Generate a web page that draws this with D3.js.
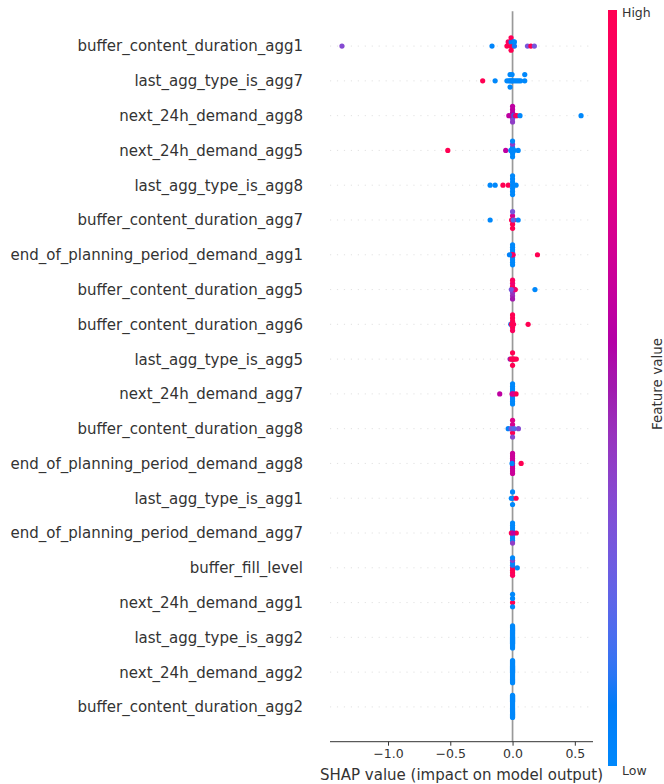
<!DOCTYPE html>
<html>
<head>
<meta charset="utf-8">
<script src="https://cdn.jsdelivr.net/npm/d3@7"></script>
<style>
  html, body { margin: 0; padding: 0; background: #fff; }
  svg { display: block; font-family: "DejaVu Sans", sans-serif; }
</style>
</head>
<body>
<svg id="chart" width="664" height="784"></svg>
<script>
// Features, top to bottom
const features = [
  "buffer_content_duration_agg1",
  "last_agg_type_is_agg7",
  "next_24h_demand_agg8",
  "next_24h_demand_agg5",
  "last_agg_type_is_agg8",
  "buffer_content_duration_agg7",
  "end_of_planning_period_demand_agg1",
  "buffer_content_duration_agg5",
  "buffer_content_duration_agg6",
  "last_agg_type_is_agg5",
  "next_24h_demand_agg7",
  "buffer_content_duration_agg8",
  "end_of_planning_period_demand_agg8",
  "last_agg_type_is_agg1",
  "end_of_planning_period_demand_agg7",
  "buffer_fill_level",
  "next_24h_demand_agg1",
  "last_agg_type_is_agg2",
  "next_24h_demand_agg2",
  "buffer_content_duration_agg2"
];

// [SHAP value, normalised feature value] per sample, one array per feature
const shap_buffer_content_duration_agg1 = [[-1.37,0.35],[-0.165,0.02],[-0.045,1],[-0.035,0.95],[-0.012,1],[-0.012,0.05],[-0.012,1],[-0.012,0.98],[0.0,1],[0.005,0.05],[0.015,0.1],[0.015,0.0],[0.12,0.3],[0.147,1],[0.175,0.3]];
const shap_last_agg_type_is_agg7 = [[-0.24,1],[-0.14,0],[-0.045,0],[-0.03,0],[-0.02,0],[-0.02,0],[-0.02,0],[-0.01,0],[-0.004,0],[-0.004,0],[0.005,0],[0.02,0],[0.035,0],[0.05,0],[0.065,0],[0.098,0],[0.098,0]];
const shap_next_24h_demand_agg8 = [[0.55,0.0],[0,0.35],[0,0.55],[0,0.3],[0,0.6],[0,0.4],[0,0.6],[-0.01,0.7],[0.01,0.0],[0.02,0.65],[0.034,1],[0.06,0.0],[-0.03,0.6]];
const shap_next_24h_demand_agg5 = [[-0.52,1],[-0.055,0.6],[-0.015,0.0],[0,0.0],[0,0.0],[0,0.0],[0,0.4],[0,0.0],[0,0.0],[0.012,0.0],[0.045,0.0]];
const shap_last_agg_type_is_agg8 = [[-0.18,0],[-0.14,0],[-0.077,1],[-0.034,1],[0,0],[0,0],[0,0],[0,0],[0,0],[0,0],[0,0],[0.028,0]];
const shap_buffer_content_duration_agg7 = [[-0.18,0],[0,0.9],[0,0.7],[0,1],[0,0.3],[0,1],[0.01,0.95],[-0.008,1],[0.045,0],[0.005,0.2]];
const shap_end_of_planning_period_demand_agg1 = [[0.2,1],[0,0],[0,0],[0,0],[0,0],[0,0],[0,0],[0,0],[0,0],[0,0],[-0.005,1],[0.004,1],[0.002,0.9],[-0.025,0.05]];
const shap_buffer_content_duration_agg5 = [[0.18,0],[0,0.55],[0,1],[0,0.4],[0,0.85],[0,0.45],[0,0.95],[0,0.5],[0.022,1],[0.01,0.8],[-0.01,0.3]];
const shap_buffer_content_duration_agg6 = [[0.125,1],[0,1],[0,1],[0,1],[0,1],[0,0.95],[0,1],[-0.015,0.1],[0.008,0.95],[-0.008,1]];
const shap_last_agg_type_is_agg5 = [[0,1],[0,1],[0,1],[-0.02,0.5],[0.008,1],[0.015,1],[0.03,1],[-0.01,1]];
const shap_next_24h_demand_agg7 = [[-0.103,0.6],[0,0],[0,0],[0,0],[0,0],[0,0],[0,0],[0,0],[0,0],[0,0],[0.003,1],[0.028,1],[-0.004,0.7]];
const shap_buffer_content_duration_agg8 = [[0,1],[0,0.7],[0,1],[0,0.75],[0,0.35],[-0.035,0.05],[0.047,0.35],[-0.012,0.3],[0.012,0.2]];
const shap_end_of_planning_period_demand_agg8 = [[0,0.65],[0,0.65],[0,0.65],[0,0.65],[0,0.65],[0,0.65],[0,0.65],[0,0.65],[0,0.65],[-0.004,0.0],[0.069,1]];
const shap_last_agg_type_is_agg1 = [[0,0],[0,0],[0,0],[-0.01,0],[0.028,1]];
const shap_end_of_planning_period_demand_agg7 = [[0,0],[0,0],[0,0],[0,0],[0,0],[0,0],[0,0],[0,0],[-0.01,1],[0.03,1],[0,0.4],[0.003,0.6]];
const shap_buffer_fill_level = [[0,1],[0,0.1],[0,1],[0,0],[0,1],[0,0.4],[0,0.95],[0,0],[0.038,0]];
const shap_next_24h_demand_agg1 = [[0,1],[0,0],[0,0],[0,0]];
const shap_last_agg_type_is_agg2 = [[0,0],[0,0],[0,0],[0,0],[0,0],[0,0],[0,0],[0,0],[0,0],[0,0],[0,0],[0,0],[0,0],[0,0],[0,0],[0,0],[0,0],[0,0],[0,0],[0,0],[0,0],[0,0],[0,0],[0,0]];
const shap_next_24h_demand_agg2 = [[0,0],[0,0],[0,0],[0,0],[0,0],[0,0],[0,0],[0,0],[0,0],[0,0],[0,0],[0,0],[0,0],[0,0],[0,0],[0,0],[0,0],[0,0],[0,0],[0,0],[0,0],[0,0],[0,0],[0,0]];
const shap_buffer_content_duration_agg2 = [[0,0],[0,0],[0,0],[0,0],[0,0],[0,0],[0,0],[0,0],[0,0],[0,0],[0,0],[0,0],[0,0],[0,0],[0,0],[0,0],[0,0],[0,0],[0,0],[0,0],[0,0],[0,0],[0,0],[0,0]];

const seriesByFeature = [
  shap_buffer_content_duration_agg1, shap_last_agg_type_is_agg7, shap_next_24h_demand_agg8,
  shap_next_24h_demand_agg5, shap_last_agg_type_is_agg8, shap_buffer_content_duration_agg7,
  shap_end_of_planning_period_demand_agg1, shap_buffer_content_duration_agg5, shap_buffer_content_duration_agg6,
  shap_last_agg_type_is_agg5, shap_next_24h_demand_agg7, shap_buffer_content_duration_agg8,
  shap_end_of_planning_period_demand_agg8, shap_last_agg_type_is_agg1, shap_end_of_planning_period_demand_agg7,
  shap_buffer_fill_level, shap_next_24h_demand_agg1, shap_last_agg_type_is_agg2,
  shap_next_24h_demand_agg2, shap_buffer_content_duration_agg2
];

const xTicks = [-1.0, -0.5, 0.0, 0.5];
const xTitle = "SHAP value (impact on model output)";
const cbarTitle = "Feature value";
const cbarLabels = ["Low", "High"];

// ---- layout ----
const svg = d3.select("#chart");
const plotL = 330, plotR = 593, plotT = 11.3, plotB = 741.7;
const nF = features.length;

const allVals = seriesByFeature.flat().map(d => d[0]);
const vmin = d3.min(allVals), vmax = d3.max(allVals);
const pad = (vmax - vmin) * 0.05;
const x = d3.scaleLinear().domain([vmin - pad, vmax + pad]).range([plotL, plotR]);
const y = d3.scaleLinear().domain([-1, nF]).range([plotB, plotT]);

// SHAP "red_blue" colormap: LCH path blue -> (darker mid) -> red
const hueS = d3.scaleLinear().domain([0, 1]).range([266.93, 380.32]);
const chromaS = d3.scaleLinear().domain([0, 1]).range([70, 90]);
const lightS = d3.scaleLinear().domain([0, 0.5, 1]).range([54, 40, 54]);
function color(t) {
  t = Math.max(0, Math.min(1, t));
  return d3.hcl(hueS(t) % 360, chromaS(t), lightS(t)).formatHex();
}

// grid lines
const g = svg.append("g");
features.forEach((f, i) => {
  const pos = nF - 1 - i;
  g.append("line")
    .attr("x1", plotL).attr("x2", plotR)
    .attr("y1", y(pos)).attr("y2", y(pos))
    .attr("stroke", "#cccccc").attr("stroke-width", 0.6)
    .attr("stroke-dasharray", "1.15,5.8");
});
// zero line
g.append("line")
  .attr("x1", x(0)).attr("x2", x(0))
  .attr("y1", plotT).attr("y2", plotB)
  .attr("stroke", "#999999").attr("stroke-width", 1.7);

// beeswarm (shap algorithm)
function swarm(pts) {
  const n = pts.length, nbins = 100;
  const vals = pts.map(p => p[0]);
  const mn = d3.min(vals), mx = d3.max(vals);
  const quant = vals.map(v => Math.round(nbins * (v - mn) / (mx - mn + 1e-8)));
  const inds = d3.range(n).sort((a, b) => (quant[a] - quant[b]) || (a - b));
  let layer = 0, last = -1;
  const ys = new Array(n).fill(0);
  for (const i of inds) {
    if (quant[i] !== last) layer = 0;
    ys[i] = Math.ceil(layer / 2) * ((layer % 2) * 2 - 1);
    layer++;
    last = quant[i];
  }
  const m = d3.max(ys.map(v => v + 1));
  return ys.map(v => v * 0.9 * (0.4 / m));
}

const dots = svg.append("g");
seriesByFeature.forEach((pts, i) => {
  const pos = nF - 1 - i;
  const ys = swarm(pts);
  dots.selectAll(null).data(pts.map((p, k) => ({ v: p[0], fv: p[1], dy: ys[k] })))
    .enter().append("circle")
    .attr("cx", d => x(d.v))
    .attr("cy", d => y(pos + d.dy))
    .attr("r", 2.6)
    .attr("fill", d => color(d.fv));
});

// feature labels
svg.append("g").selectAll("text").data(features).enter().append("text")
  .attr("x", 303)
  .attr("y", (d, i) => y(nF - 1 - i))
  .attr("dy", "0.36em")
  .attr("text-anchor", "end")
  .attr("font-size", 15)
  .attr("fill", "#333333")
  .text(d => d);

// x axis
const xAxis = d3.axisBottom(x).tickValues(xTicks).tickFormat(d3.format(".1f")).tickSizeOuter(0).tickSize(4);
const ax = svg.append("g").attr("transform", `translate(0,${plotB})`).call(xAxis);
ax.select(".domain").attr("stroke", "#333333").attr("stroke-width", 1).attr("d", `M${plotL},0H${plotR}`);
ax.selectAll(".tick line").attr("stroke", "#333333");
ax.selectAll(".tick text").attr("fill", "#333333").attr("font-size", 12.5)
  .attr("font-family", "DejaVu Sans").attr("y", 7);

svg.append("text")
  .attr("x", (plotL + plotR) / 2).attr("y", 775).attr("dy", "0.35em")
  .attr("text-anchor", "middle").attr("font-size", 15).attr("fill", "#333333")
  .text(xTitle);

// colorbar
const cbX = 608, cbW = 9, cbT = 10, cbB = 766;
const defs = svg.append("defs");
const grad = defs.append("linearGradient").attr("id", "cbgrad")
  .attr("x1", 0).attr("y1", 1).attr("x2", 0).attr("y2", 0);
d3.range(0, 1.0001, 0.02).forEach(t => {
  grad.append("stop").attr("offset", t).attr("stop-color", color(t));
});
svg.append("rect").attr("x", cbX).attr("y", cbT).attr("width", cbW).attr("height", cbB - cbT)
  .attr("fill", "url(#cbgrad)");
const cbScale = d3.scaleLinear().domain([0, 1]).range([cbB, cbT]);
svg.append("g").selectAll("text").data(cbarLabels).enter().append("text")
  .attr("x", cbX + cbW + 5)
  .attr("y", (d, i) => cbScale(i) + (i === 1 ? 3 : 5))
  .attr("dy", "0.35em")
  .attr("font-size", 12.5).attr("fill", "#333333")
  .text(d => d);
svg.append("text")
  .attr("transform", `translate(657,${(cbT + cbB) / 2 - 4}) rotate(-90)`)
  .attr("text-anchor", "middle").attr("dy", "0.35em")
  .attr("font-size", 13.5).attr("fill", "#333333")
  .text(cbarTitle);
</script>
</body>
</html>
